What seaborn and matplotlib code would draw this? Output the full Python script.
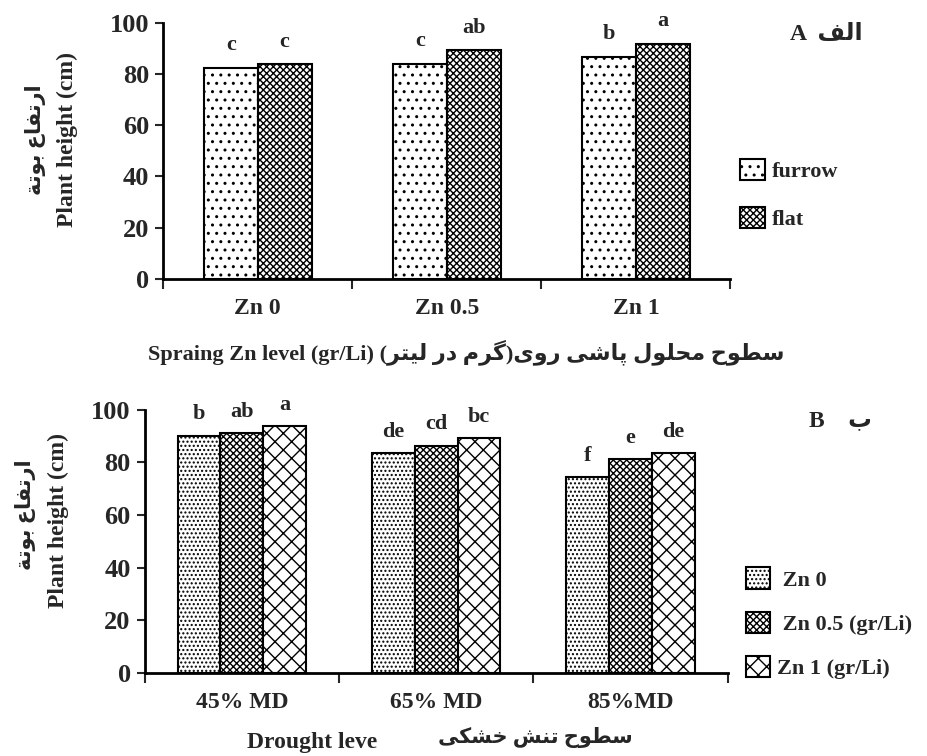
import numpy as np
import pandas as pd
import seaborn as sns
import matplotlib.pyplot as plt

sns.set_style('white')
plt.rcParams['font.family'] = ['Liberation Serif', 'DejaVu Sans']
plt.rcParams['font.weight'] = 'bold'
plt.rcParams['hatch.linewidth'] = 1.0

# data
zn_levels = ['Zn 0', 'Zn 0.5', 'Zn 1']
planting = ['furrow', 'flat']
height_furrow = [82.4, 84.0, 86.7]
height_flat = [83.7, 89.3, 91.8]
letters_furrow = ['c', 'c', 'b']
letters_flat = ['c', 'ab', 'a']

drought = ['45% MD', '65% MD', '85%MD']
zn_spray = [' Zn 0', ' Zn 0.5 (gr/Li)', 'Zn 1 (gr/Li)']
height_zn0 = [90.2, 83.7, 74.3]
height_zn05 = [91.1, 86.4, 81.4]
height_zn1 = [93.8, 89.2, 83.7]
letters_zn0 = ['b', 'de', 'f']
letters_zn05 = ['ab', 'cd', 'e']
letters_zn1 = ['a', 'bc', 'de']

# persian text shaping (matplotlib has no arabic shaping)
FORMS = {
    'ا': ('\ufe8d', '\ufe8e', None, None),
    'ب': ('\ufe8f', '\ufe90', '\ufe91', '\ufe92'),
    'پ': ('\ufb56', '\ufb57', '\ufb58', '\ufb59'),
    'ت': ('\ufe95', '\ufe96', '\ufe97', '\ufe98'),
    'ة': ('\ufe93', '\ufe94', None, None),
    'ح': ('\ufea1', '\ufea2', '\ufea3', '\ufea4'),
    'خ': ('\ufea5', '\ufea6', '\ufea7', '\ufea8'),
    'د': ('\ufea9', '\ufeaa', None, None),
    'ر': ('\ufead', '\ufeae', None, None),
    'س': ('\ufeb1', '\ufeb2', '\ufeb3', '\ufeb4'),
    'ش': ('\ufeb5', '\ufeb6', '\ufeb7', '\ufeb8'),
    'ط': ('\ufec1', '\ufec2', '\ufec3', '\ufec4'),
    'ع': ('\ufec9', '\ufeca', '\ufecb', '\ufecc'),
    'ف': ('\ufed1', '\ufed2', '\ufed3', '\ufed4'),
    'ک': ('\ufb8e', '\ufb8f', '\ufb90', '\ufb91'),
    'گ': ('\ufb92', '\ufb93', '\ufb94', '\ufb95'),
    'ل': ('\ufedd', '\ufede', '\ufedf', '\ufee0'),
    'م': ('\ufee1', '\ufee2', '\ufee3', '\ufee4'),
    'ن': ('\ufee5', '\ufee6', '\ufee7', '\ufee8'),
    'و': ('\ufeed', '\ufeee', None, None),
    'ی': ('\ufbfc', '\ufbfd', '\ufbfe', '\ufbff'),
}


def fa(text):
    out = []
    for i, ch in enumerate(text):
        if ch not in FORMS:
            out.append(ch)
            continue
        prev = text[i - 1] if i > 0 else ''
        nxt = text[i + 1] if i + 1 < len(text) else ''
        jp = prev in FORMS and FORMS[prev][2] is not None
        jn = nxt in FORMS and FORMS[ch][2] is not None
        iso, fin, ini, med = FORMS[ch]
        out.append(med if jp and jn else fin if jp else ini if jn else iso)
    s = ''.join(out)[::-1]
    return s.translate(str.maketrans('()', ')('))


df_a = pd.DataFrame({
    'level': zn_levels * 2,
    'method': [planting[0]] * 3 + [planting[1]] * 3,
    'height': height_furrow + height_flat,
})
df_b = pd.DataFrame({
    'level': drought * 3,
    'zn': [zn_spray[0]] * 3 + [zn_spray[1]] * 3 + [zn_spray[2]] * 3,
    'height': height_zn0 + height_zn05 + height_zn1,
})

fig = plt.figure(figsize=(9.27, 7.56), dpi=100)
ax1 = fig.add_axes([0.176, 0.631, 0.612, 0.339])
ax2 = fig.add_axes([0.156, 0.110, 0.629, 0.348])

sns.barplot(data=df_a, x='level', y='height', hue='method', ax=ax1,
            width=0.57, legend=False, errorbar=None)
sns.barplot(data=df_b, x='level', y='height', hue='zn', ax=ax2,
            width=0.66, legend=False, errorbar=None)

hatches_a = ['..', 'xxxxx']
hatches_b = ['....', 'xxxxx', 'xx']
for ax, hatches in [(ax1, hatches_a), (ax2, hatches_b)]:
    for cont, h in zip(ax.containers, hatches):
        for p in cont:
            p.set_facecolor('white')
            p.set_edgecolor('black')
            p.set_linewidth(1.5)
            p.set_hatch(h)

for cont, lets in zip(ax1.containers, [letters_furrow, letters_flat]):
    ax1.bar_label(cont, labels=lets, padding=9, fontsize=16, fontweight='bold')
for cont, lets in zip(ax2.containers, [letters_zn0, letters_zn05, letters_zn1]):
    ax2.bar_label(cont, labels=lets, padding=8, fontsize=16, fontweight='bold')

for ax in [ax1, ax2]:
    ax.set_ylim(0, 100)
    ax.set_xlim(-0.5, 2.5)
    ax.set_yticks([0, 20, 40, 60, 80, 100])
    ax.set_xticks([-0.5, 0.5, 1.5, 2.5], minor=True)
    ax.tick_params(axis='x', which='major', length=0, pad=14, labelsize=17)
    ax.tick_params(axis='x', which='minor', length=7, width=1.5, direction='out', bottom=True)
    ax.tick_params(axis='y', length=6, width=1.5, direction='out', left=True, labelsize=19, pad=4)
    for lab in ax.get_xticklabels() + ax.get_yticklabels():
        lab.set_fontweight('bold')
    sns.despine(ax=ax)
    for sp in ['left', 'bottom']:
        ax.spines[sp].set_linewidth(2)
        ax.spines[sp].set_color('black')
    ax.set_xlabel('')
    ax.set_ylabel('')

leg1 = ax1.legend(ax1.containers, planting, loc='upper left', bbox_to_anchor=(0.777, 0.816),
                  bbox_transform=fig.transFigure, frameon=False, handlelength=1.1,
                  handleheight=1.1, handletextpad=0.3, labelspacing=1.1,
                  prop={'size': 16, 'weight': 'bold'})
leg2 = ax2.legend(ax2.containers, zn_spray, loc='upper left', bbox_to_anchor=(0.783, 0.276),
                  bbox_transform=fig.transFigure, frameon=False, handlelength=1.1,
                  handleheight=1.1, handletextpad=0.3, labelspacing=0.95,
                  prop={'size': 16, 'weight': 'bold'})

fig.text(0.038, 0.815, fa('ارتفاع بوتة'), rotation=90, ha='center', va='center', fontsize=15)
fig.text(0.073, 0.815, 'Plant height (cm)', rotation=90, ha='center', va='center', fontsize=17)
fig.text(0.027, 0.319, fa('ارتفاع بوتة'), rotation=90, ha='center', va='center', fontsize=15)
fig.text(0.063, 0.312, 'Plant height (cm)', rotation=90, ha='center', va='center', fontsize=17)

fig.text(0.503, 0.534, 'Spraing Zn level (gr/Li) ' + fa('سطوح محلول پاشی روی(گرم در لیتر)'),
         ha='center', va='center', fontsize=16)
fig.text(0.337, 0.018, 'Drought leve', ha='center', va='center', fontsize=17)
fig.text(0.578, 0.024, fa('سطوح تنش خشکی'), ha='center', va='center', fontsize=15)

fig.text(0.852, 0.955, 'A  ' + fa('الف'), ha='left', va='center', fontsize=17)
fig.text(0.873, 0.444, 'B    ' + fa('ب'), ha='left', va='center', fontsize=17)

plt.savefig('out.png', dpi=100)
